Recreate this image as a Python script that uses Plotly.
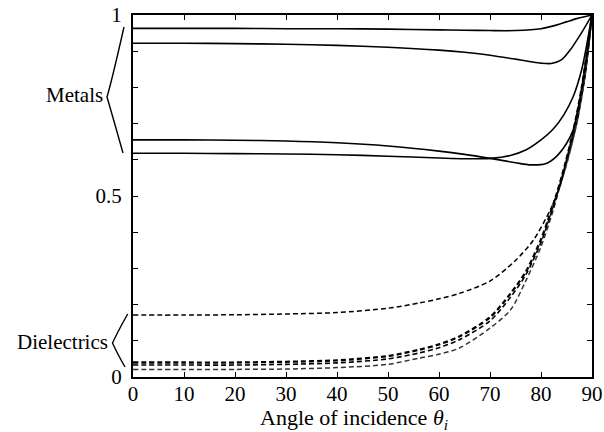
import plotly.graph_objects as go

# ---- data ----
metal_a_x = [0, 10, 20, 30, 40, 50, 60, 65, 70, 75, 80, 83, 85, 87, 88.5, 90]
metal_a_y = [0.963, 0.963, 0.963, 0.962, 0.962, 0.961, 0.959, 0.958, 0.957, 0.957, 0.962, 0.972, 0.981, 0.99, 0.995, 1.0]

metal_b_x = [0, 10, 20, 30, 40, 50, 60, 65, 70, 75, 78, 80, 82, 84, 85.7, 87, 88.3, 90]
metal_b_y = [0.922, 0.922, 0.921, 0.919, 0.916, 0.911, 0.903, 0.897, 0.889, 0.878, 0.871, 0.867, 0.866, 0.876, 0.903, 0.93, 0.959, 1.0]

metal_c_x = [0, 10, 20, 30, 40, 50, 60, 65, 70, 75, 78, 81, 83, 85, 86.3, 87.5, 88.6, 89.4, 90]
metal_c_y = [0.655, 0.655, 0.654, 0.652, 0.647, 0.638, 0.624, 0.615, 0.604, 0.592, 0.586, 0.59, 0.609, 0.645, 0.682, 0.75, 0.83, 0.92, 1.0]

metal_d_x = [0, 10, 20, 30, 40, 50, 60, 65, 70, 74, 77, 80, 82.4, 84.5, 86.3, 88, 89, 90]
metal_d_y = [0.618, 0.618, 0.617, 0.616, 0.614, 0.61, 0.605, 0.603, 0.604, 0.612, 0.627, 0.655, 0.685, 0.725, 0.774, 0.85, 0.92, 1.0]

diel_e_x = [0, 10, 20, 30, 40, 50, 56, 60, 64, 70, 75, 78.5, 81.8, 83.7, 85, 87, 88.5, 90]
diel_e_y = [0.171, 0.171, 0.172, 0.174, 0.178, 0.19, 0.204, 0.216, 0.231, 0.265, 0.322, 0.378, 0.461, 0.526, 0.59, 0.7, 0.82, 1.0]

diel_f_x = [0, 10, 20, 30, 40, 50, 56, 60, 64, 70, 74, 77, 80, 81.4, 83.1, 84.7, 86.5, 88, 90]
diel_f_y = [0.04, 0.04, 0.04, 0.042, 0.046, 0.058, 0.075, 0.09, 0.112, 0.165, 0.23, 0.29, 0.38, 0.434, 0.507, 0.586, 0.69, 0.8, 1.0]

diel_g_x = [0, 10, 20, 30, 40, 50, 56, 60, 64, 70, 74, 77, 80, 81.4, 83.1, 84.7, 86.5, 88, 90]
diel_g_y = [0.033, 0.033, 0.033, 0.035, 0.039, 0.05, 0.066, 0.081, 0.103, 0.155, 0.22, 0.282, 0.372, 0.428, 0.502, 0.583, 0.688, 0.8, 1.0]

diel_h_x = [0, 10, 20, 30, 40, 50, 56, 60, 64, 70, 74, 77, 80, 82.4, 83.7, 85, 87, 88.5, 90]
diel_h_y = [0.021, 0.021, 0.021, 0.022, 0.026, 0.035, 0.052, 0.063, 0.08, 0.135, 0.185, 0.265, 0.36, 0.461, 0.526, 0.586, 0.7, 0.82, 1.0]

x_ticks = [0, 10, 20, 30, 40, 50, 60, 70, 80, 90]
y_ticks = [0, 0.5, 1]
y_ticktext = ["0", "0.5", "1"]

FONT = "Liberation Serif"

fig = go.Figure()

def add(xs, ys, width, dash=None, color="black"):
    fig.add_trace(go.Scatter(
        x=xs, y=ys, mode="lines",
        line=dict(color=color, width=width, dash=dash, shape="spline", smoothing=0.8),
        showlegend=False, hoverinfo="skip"))

for xs, ys in [(metal_a_x, metal_a_y), (metal_b_x, metal_b_y),
               (metal_c_x, metal_c_y), (metal_d_x, metal_d_y)]:
    add(xs, ys, 1.6)

add(diel_e_x, diel_e_y, 1.5, "5px,3px", "black")
add(diel_h_x, diel_h_y, 1.5, "5px,3px", "#333")
add(diel_g_x, diel_g_y, 1.6, "5px,3px", "black")
add(diel_f_x, diel_f_y, 2.3, "5px,3px", "black")

W, H = 604, 432
# plot area in window pixels: x 133..592, y 15..377
L, R, T, B = 133, W - 592, 15, H - 377
pw = W - L - R
ph = H - T - B

def px(xwin):
    return (xwin - L) / pw

def py(ywin):
    return (H - B - ywin) / ph

fig.update_layout(
    width=W, height=H,
    margin=dict(l=L, r=R, t=T, b=B, autoexpand=False),
    paper_bgcolor="white", plot_bgcolor="white",
    font=dict(family=FONT, size=21, color="black"),
    xaxis=dict(range=[0, 90], tickvals=x_ticks, ticks="inside", ticklen=5,
               tickcolor="black", showline=True, linecolor="black", linewidth=2,
               mirror="ticks", showgrid=False, zeroline=False,
               ticklabeloverflow="allow", ticklabelstandoff=-3,
               tickfont=dict(family=FONT, size=21)),
    yaxis=dict(range=[0, 1], tickvals=y_ticks, ticktext=y_ticktext,
               ticks="inside", ticklen=5, tickcolor="black",
               showline=True, linecolor="black", linewidth=2, mirror="ticks",
               showgrid=False, zeroline=False, ticklabelstandoff=5,
               ticklabeloverflow="allow",
               minor=dict(dtick=0.1, ticks="inside", ticklen=5, tickcolor="black", showgrid=False),
               tickfont=dict(family=FONT, size=21)),
    annotations=[
        dict(text="Angle of incidence <i>θ</i><sub><i>i</i></sub>", xref="paper", yref="paper",
             x=px(354), y=py(419), xanchor="center", yanchor="middle", showarrow=False,
             font=dict(family=FONT, size=22)),
        dict(text="Metals", xref="paper", yref="paper", x=px(105), y=py(95),
             xanchor="right", yanchor="middle", showarrow=False,
             font=dict(family=FONT, size=21)),
        dict(text="Dielectrics", xref="paper", yref="paper", x=px(110), y=py(342),
             xanchor="right", yanchor="middle", showarrow=False,
             font=dict(family=FONT, size=21)),
    ],
    shapes=[
        dict(type="path", xref="paper", yref="paper",
             path=f"M {px(124)},{py(27)} Q {px(112)},{py(80)} {px(107)},{py(97)} Q {px(112)},{py(114)} {px(123)},{py(153)}",
             line=dict(color="black", width=1.4)),
        dict(type="path", xref="paper", yref="paper",
             path=f"M {px(127.7)},{py(314)} Q {px(117)},{py(333)} {px(112.5)},{py(343)} Q {px(117)},{py(353)} {px(125)},{py(367)}",
             line=dict(color="black", width=1.4)),
    ],
)

fig.write_html("out.html",
               config={"displayModeBar": False, "staticPlot": True},
               post_script="document.body.style.margin='0px';document.body.style.overflow='hidden';")
